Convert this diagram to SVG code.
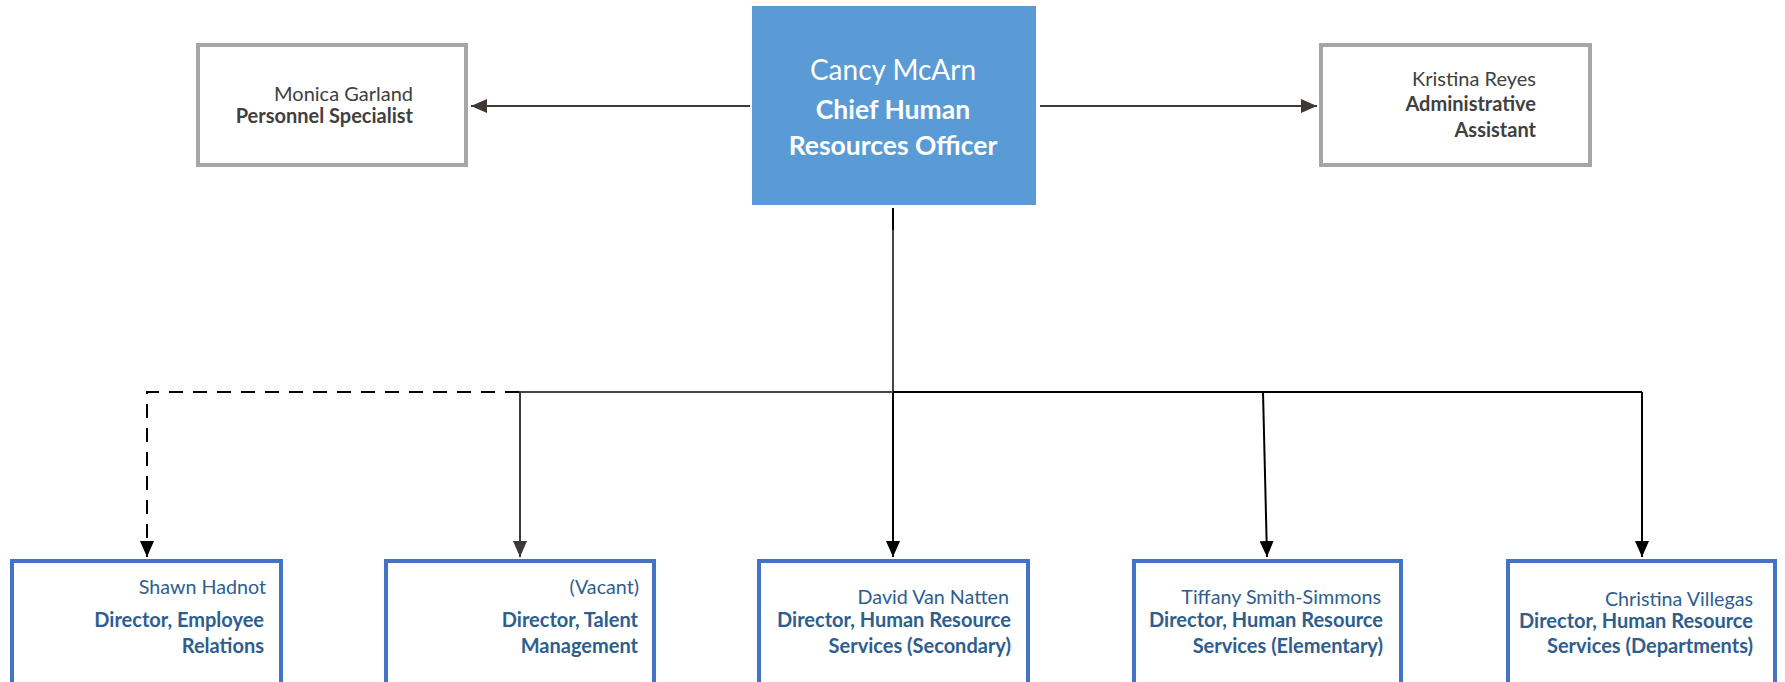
<svg xmlns="http://www.w3.org/2000/svg" width="1785" height="682" viewBox="0 0 1785 682">
<style>
.gbox{fill:#fff;stroke:#a6a6a6;stroke-width:4}
.bbox{fill:#fff;stroke:#4472c4;stroke-width:4}
.t{font-family:Lato,"Liberation Sans",sans-serif}
.gn{fill:#404040;font-size:20px}
.gr{fill:#404040;font-size:20px;font-weight:bold}
.bn{fill:#2e5e8e;font-size:19.7px}
.br{fill:#2e5e8e;font-size:20px;font-weight:bold}
.line{fill:none;stroke-width:2}
</style>
<defs>
<marker id="ah" markerWidth="16" markerHeight="14" refX="16" refY="7" orient="auto" markerUnits="userSpaceOnUse"><path d="M0,0 L16,7 L0,14 z" fill="#000"/></marker>
<marker id="ahg" markerWidth="16" markerHeight="14" refX="16" refY="7" orient="auto" markerUnits="userSpaceOnUse"><path d="M0,0 L16,7 L0,14 z" fill="#3f3935"/></marker>
</defs>
<g id="connectors">
<line class="line" x1="750" y1="106" x2="471" y2="106" stroke="#3f3935" marker-end="url(#ahg)"/>
<line class="line" x1="1040" y1="106" x2="1317" y2="106" stroke="#3f3935" marker-end="url(#ahg)"/>
<line class="line" x1="893" y1="208" x2="893" y2="230" stroke="#000"/>
<line class="line" x1="893" y1="230" x2="893" y2="392" stroke="#4a4340"/>
<line class="line" x1="893" y1="392" x2="893" y2="557" stroke="#000" marker-end="url(#ah)"/>
<line class="line" x1="519" y1="392" x2="893" y2="392" stroke="#4a4340"/>
<line class="line" x1="893" y1="392" x2="1642" y2="392" stroke="#000"/>
<path class="line" d="M519,392 H147 V557" stroke="#000" stroke-dasharray="14,10" marker-end="url(#ah)"/>
<line class="line" x1="520" y1="392" x2="520" y2="557" stroke="#3f3935" marker-end="url(#ahg)"/>
<line class="line" x1="1263" y1="392" x2="1267" y2="557" stroke="#000" marker-end="url(#ah)"/>
<line class="line" x1="1642" y1="392" x2="1642" y2="557" stroke="#000" marker-end="url(#ah)"/>
</g>
<g id="monica">
<rect class="gbox" x="198" y="45" width="268" height="120"/>
<text class="t gn" x="413" y="101" text-anchor="end">Monica Garland</text>
<text class="t gr" x="413" y="123" text-anchor="end">Personnel Specialist</text>
</g>
<g id="cancy">
<rect x="752" y="6" width="284" height="199" fill="#5b9bd5"/>
<text class="t" x="893" y="80" text-anchor="middle" fill="#fff" font-size="28">Cancy McArn</text>
<text class="t" x="893" y="119" text-anchor="middle" fill="#fff" font-size="26.5" font-weight="bold">Chief Human</text>
<text class="t" x="893" y="155" text-anchor="middle" fill="#fff" font-size="26.5" font-weight="bold">Resources Officer</text>
</g>
<g id="kristina">
<rect class="gbox" x="1321" y="45" width="269" height="120"/>
<text class="t gn" x="1536" y="86" text-anchor="end" font-size="19.5">Kristina Reyes</text>
<text class="t gr" x="1536" y="111" text-anchor="end">Administrative</text>
<text class="t gr" x="1536" y="137" text-anchor="end">Assistant</text>
</g>
<g id="shawn">
<rect class="bbox" x="12" y="561" width="269" height="160"/>
<text class="t bn" x="266" y="594" text-anchor="end">Shawn Hadnot</text>
<text class="t br" x="264" y="627" text-anchor="end">Director, Employee</text>
<text class="t br" x="264" y="653" text-anchor="end">Relations</text>
</g>
<g id="vacant">
<rect class="bbox" x="386" y="561" width="268" height="160"/>
<text class="t bn" x="639" y="594" text-anchor="end">(Vacant)</text>
<text class="t br" x="638" y="627" text-anchor="end">Director, Talent</text>
<text class="t br" x="638" y="653" text-anchor="end">Management</text>
</g>
<g id="david">
<rect class="bbox" x="759" y="561" width="269" height="160"/>
<text class="t bn" x="1009" y="604" text-anchor="end">David Van Natten</text>
<text class="t br" x="1011" y="627" text-anchor="end">Director, Human Resource</text>
<text class="t br" x="1011" y="653" text-anchor="end">Services (Secondary)</text>
</g>
<g id="tiffany">
<rect class="bbox" x="1134" y="561" width="267" height="160"/>
<text class="t bn" x="1381" y="604" text-anchor="end">Tiffany Smith-Simmons</text>
<text class="t br" x="1383" y="627" text-anchor="end">Director, Human Resource</text>
<text class="t br" x="1383" y="653" text-anchor="end">Services (Elementary)</text>
</g>
<g id="christina">
<rect class="bbox" x="1508" y="561" width="267" height="160"/>
<text class="t bn" x="1753" y="606" text-anchor="end">Christina Villegas</text>
<text class="t br" x="1753" y="628" text-anchor="end">Director, Human Resource</text>
<text class="t br" x="1753" y="653" text-anchor="end">Services (Departments)</text>
</g>
</svg>
